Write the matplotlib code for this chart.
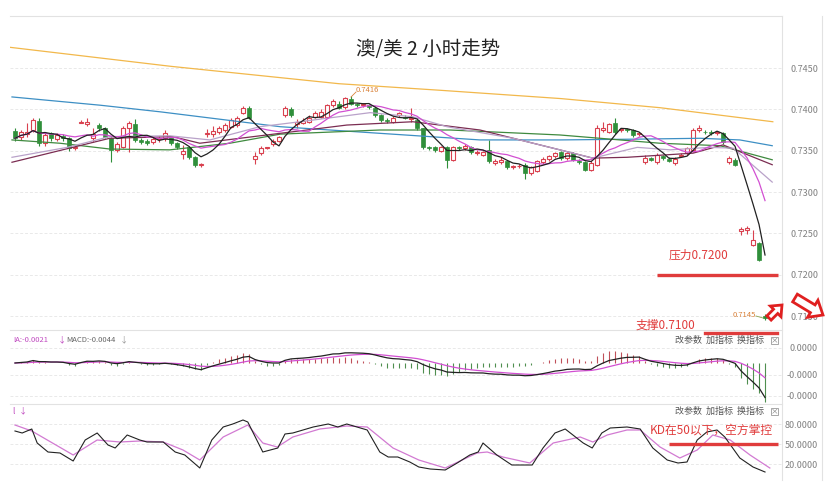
import numpy as np
import pandas as pd
import matplotlib
matplotlib.use('Agg')
import matplotlib.pyplot as plt
from matplotlib.patches import FancyArrow, Rectangle

plt.rcParams['font.family'] = ['Noto Sans CJK SC', 'DejaVu Sans']

# ---- candle data (AUD/USD, 2h) ----
opens = [0.7374, 0.7366, 0.7370, 0.7375, 0.7386, 0.7359, 0.7371, 0.7364, 0.7368, 0.7365,
         0.7353, 0.7384, 0.7382, 0.7365, 0.7381, 0.7377, 0.7365, 0.7351, 0.7355, 0.7377,
         0.7382, 0.7363, 0.7362, 0.7360, 0.7364, 0.7365, 0.7366, 0.7359, 0.7346, 0.7354,
         0.7342, 0.7333, 0.7370, 0.7370, 0.7372, 0.7375, 0.7379, 0.7381, 0.7396, 0.7402,
         0.7340, 0.7347, 0.7353, 0.7358, 0.7362, 0.7393, 0.7401, 0.7382, 0.7384, 0.7385,
         0.7391, 0.7391, 0.7391, 0.7405, 0.7407, 0.7403, 0.7413, 0.7406, 0.7405, 0.7405,
         0.7402, 0.7393, 0.7387, 0.7385, 0.7393, 0.7391, 0.7388, 0.7387, 0.7377, 0.7354,
         0.7354, 0.7350, 0.7354, 0.7339, 0.7354, 0.7353, 0.7354, 0.7347, 0.7345, 0.7351,
         0.7335, 0.7336, 0.7337, 0.7330, 0.7331, 0.7333, 0.7323, 0.7326, 0.7336, 0.7340,
         0.7343, 0.7348, 0.7341, 0.7347, 0.7338, 0.7336, 0.7327, 0.7333, 0.7375, 0.7373,
         0.7383, 0.7375, 0.7376, 0.7375, 0.7370, 0.7336, 0.7341, 0.7336, 0.7343, 0.7340,
         0.7335, 0.7344, 0.7347, 0.7351, 0.7375, 0.7373, 0.7373, 0.7371, 0.7371, 0.7336,
         0.7339, 0.7253, 0.7254, 0.7236, 0.7238, 0.7150]
closes = [0.7365, 0.7372, 0.7373, 0.7387, 0.7359, 0.7369, 0.7365, 0.7369, 0.7365, 0.7353,
          0.7355, 0.7385, 0.7385, 0.7370, 0.7377, 0.7367, 0.7351, 0.7358, 0.7377, 0.7383,
          0.7363, 0.7361, 0.7359, 0.7364, 0.7365, 0.7371, 0.7359, 0.7354, 0.7350, 0.7342,
          0.7333, 0.7334, 0.7371, 0.7374, 0.7377, 0.7381, 0.7387, 0.7390, 0.7402, 0.7390,
          0.7344, 0.7353, 0.7354, 0.7362, 0.7366, 0.7402, 0.7393, 0.7385, 0.7386, 0.7390,
          0.7396, 0.7397, 0.7405, 0.7410, 0.7402, 0.7414, 0.7407, 0.7405, 0.7406, 0.7403,
          0.7393, 0.7387, 0.7386, 0.7390, 0.7395, 0.7390, 0.7390, 0.7377, 0.7354, 0.7353,
          0.7351, 0.7354, 0.7339, 0.7354, 0.7353, 0.7356, 0.7348, 0.7349, 0.7348, 0.7337,
          0.7338, 0.7339, 0.7330, 0.7331, 0.7332, 0.7323, 0.7330, 0.7337, 0.7340, 0.7343,
          0.7347, 0.7341, 0.7347, 0.7339, 0.7336, 0.7327, 0.7335, 0.7377, 0.7378, 0.7382,
          0.7372, 0.7376, 0.7375, 0.7369, 0.7371, 0.7341, 0.7339, 0.7345, 0.7341, 0.7338,
          0.7340, 0.7345, 0.7353, 0.7375, 0.7378, 0.7372, 0.7371, 0.7372, 0.7360, 0.7341,
          0.7333, 0.7255, 0.7256, 0.7242, 0.7218, 0.7148]
highs = [0.7378, 0.7375, 0.7383, 0.7390, 0.7390, 0.7372, 0.7373, 0.7371, 0.7370, 0.7367,
         0.7356, 0.7387, 0.7390, 0.7378, 0.7384, 0.7379, 0.7367, 0.7360, 0.7380, 0.7386,
         0.7388, 0.7365, 0.7364, 0.7366, 0.7368, 0.7375, 0.7368, 0.7360, 0.7357, 0.7356,
         0.7343, 0.7335, 0.7376, 0.7380, 0.7380, 0.7383, 0.7389, 0.7392, 0.7404, 0.7404,
         0.7348, 0.7356, 0.7355, 0.7364, 0.7368, 0.7404, 0.7403, 0.7388, 0.7389, 0.7393,
         0.7398, 0.7400, 0.7407, 0.7413, 0.7410, 0.7415, 0.7416, 0.7408, 0.7408, 0.7407,
         0.7404, 0.7394, 0.7389, 0.7392, 0.7397, 0.7393, 0.7402, 0.7389, 0.7378, 0.7356,
         0.7356, 0.7356, 0.7356, 0.7356, 0.7356, 0.7358, 0.7356, 0.7351, 0.7350, 0.7363,
         0.7340, 0.7342, 0.7338, 0.7333, 0.7334, 0.7335, 0.7332, 0.7339, 0.7342, 0.7345,
         0.7349, 0.7350, 0.7349, 0.7349, 0.7340, 0.7338, 0.7337, 0.7381, 0.7385, 0.7384,
         0.7389, 0.7378, 0.7377, 0.7376, 0.7373, 0.7345, 0.7342, 0.7347, 0.7345, 0.7342,
         0.7342, 0.7347, 0.7355, 0.7377, 0.7381, 0.7375, 0.7375, 0.7374, 0.7373, 0.7344,
         0.7341, 0.7258, 0.7259, 0.7254, 0.7240, 0.7152]
lows = [0.7362, 0.7363, 0.7366, 0.7372, 0.7356, 0.7356, 0.7362, 0.7362, 0.7362, 0.7350,
        0.7351, 0.7383, 0.7380, 0.7360, 0.7374, 0.7365, 0.7336, 0.7349, 0.7353, 0.7348,
        0.7360, 0.7358, 0.7357, 0.7358, 0.7361, 0.7362, 0.7357, 0.7352, 0.7340, 0.7340,
        0.7330, 0.7330, 0.7366, 0.7366, 0.7370, 0.7373, 0.7377, 0.7379, 0.7394, 0.7388,
        0.7334, 0.7345, 0.7352, 0.7356, 0.7360, 0.7391, 0.7391, 0.7378, 0.7382, 0.7383,
        0.7389, 0.7389, 0.7389, 0.7403, 0.7400, 0.7401, 0.7405, 0.7403, 0.7403, 0.7401,
        0.7391, 0.7385, 0.7384, 0.7383, 0.7391, 0.7388, 0.7385, 0.7375, 0.7352, 0.7351,
        0.7349, 0.7348, 0.7329, 0.7337, 0.7351, 0.7351, 0.7346, 0.7345, 0.7343, 0.7335,
        0.7333, 0.7334, 0.7328, 0.7328, 0.7329, 0.7316, 0.7321, 0.7324, 0.7334, 0.7338,
        0.7341, 0.7339, 0.7339, 0.7337, 0.7334, 0.7325, 0.7325, 0.7331, 0.7372, 0.7371,
        0.7370, 0.7373, 0.7373, 0.7367, 0.7368, 0.7334, 0.7337, 0.7334, 0.7339, 0.7336,
        0.7333, 0.7343, 0.7345, 0.7349, 0.7372, 0.7370, 0.7369, 0.7369, 0.7358, 0.7334,
        0.7331, 0.7248, 0.7249, 0.7235, 0.7217, 0.7145]

# ---- longer moving averages (candle index, price) ----
ma20_idx = [-0.5, 8.7, 15.8, 25.8, 32.5, 40.8, 47.5, 59.2, 66.3, 72, 83, 90.8, 96.3, 103.7, 109.2, 115.8, 119.7, 126.2]
ma20_val = [0.7342, 0.7354, 0.7367, 0.7368, 0.7363, 0.7379, 0.7385, 0.7396, 0.7391, 0.7379, 0.7365, 0.7351,
            0.7341, 0.7354, 0.7351, 0.7354, 0.7353, 0.7312]
ma30_idx = [-0.5, 15.8, 26.3, 30.8, 44.2, 55.3, 66.3, 77.5, 90.8, 96.3, 102, 113, 118, 126.2]
ma30_val = [0.7336, 0.7365, 0.7367, 0.7359, 0.7371, 0.7381, 0.7385, 0.7375, 0.7351, 0.7341, 0.7342, 0.7347,
            0.7357, 0.7333]
ma60_idx = [-0.5, 7.5, 15.8, 25.8, 35.8, 44.2, 60.8, 72.5, 90.8, 107.5, 117.5, 126.2]
ma60_val = [0.7363, 0.7359, 0.7352, 0.7351, 0.7359, 0.7370, 0.7375, 0.7375, 0.7369, 0.7359, 0.7356, 0.7339]
ma120_idx = [-0.5, 14.2, 24.2, 44.2, 60.8, 77.5, 90.8, 104.2, 114.2, 120.8, 126.2]
ma120_val = [0.7415, 0.7405, 0.7397, 0.7379, 0.7371, 0.7363, 0.7363, 0.7364, 0.7365, 0.7363, 0.7356]
ma250_idx = [-0.8, 26, 54, 71, 91, 107.5, 126.3]
ma250_val = [0.7475, 0.7452, 0.7431, 0.7423, 0.7413, 0.7402, 0.7385]

# ---- KD ----
k_idx = [0, 1.2, 2.8, 3.7, 5.5, 7.5, 9.7, 11.7, 13.7, 15.5, 16.7, 18.7, 20.8, 22, 24.7, 26.7, 28.3, 30.8,
         32.8, 34.7, 36.3, 38, 38.8, 41.3, 43.8, 45, 46.3, 49.7, 52.2, 53.8, 55.3, 58.7, 60.8, 62.2, 63.8,
         65.8, 67.3, 69.2, 71.7, 73.7, 75.8, 77.2, 78, 80.3, 82.8, 86.2, 88, 90, 91.7, 94.7, 96.2, 97.8,
         99.2, 102, 104.2, 106.3, 108.7, 110.5, 112, 113.7, 115.3, 117, 118.3, 120.8, 123, 125]
k_val = [69.5, 66.5, 72.5, 51.5, 38, 36.5, 24.5, 56, 66.5, 48.5, 44, 63.5, 56, 53, 53, 38, 33.5, 14,
         56, 75.5, 80, 86, 83, 38, 44, 65, 66.5, 75.5, 80, 75.5, 80, 71, 38, 30.5, 30.5,
         23, 15.5, 12.5, 11, 21.5, 33.5, 38, 51.5, 33.5, 18.5, 18.5, 44, 66.5, 72.5, 51.5, 44, 66.5,
         74, 75.5, 72.5, 44, 26, 21.5, 23, 56, 68, 71, 60.5, 29, 15.5, 8]
d_idx = [0, 2.8, 9.7, 13.7, 17.5, 20.8, 24.7, 28, 30.8, 34.7, 38.8, 41.3, 43.7, 46.3, 50.8, 55.3, 58.7,
         63, 67.3, 71.7, 77, 78.7, 81.3, 85.8, 89.7, 94.2, 96.3, 98.7, 102, 104.2, 107.5, 110.8, 113.7,
         116.3, 119.2, 122.5, 125.8]
d_val = [78.5, 69.5, 33.5, 56, 53, 54.5, 53, 41, 26, 60.5, 78.5, 51.5, 45.5, 60.5, 72.5, 77, 75.5,
         44, 26, 14, 36.5, 38, 30.5, 21.5, 51.5, 60.5, 53, 63.5, 71, 71, 45.5, 29, 41,
         63.5, 56, 33.5, 14]

price_ticks = [0.7450, 0.7400, 0.7350, 0.7300, 0.7250, 0.7200, 0.7150]
macd_ticks = [0.00158, -0.00126, -0.00347]
macd_labels = ['0.0000', '-0.0000', '-0.0000']
kd_ticks = [80, 50, 20]

RED = '#d9414f'
GREEN = '#2f8f3a'
GRID = '#e9e9e9'

W, H = 837, 487
fig = plt.figure(figsize=(W / 100, H / 100), dpi=100)


def px_axes(x0, y0, x1, y1):
    return fig.add_axes([x0 / W, 1 - y1 / H, (x1 - x0) / W, (y1 - y0) / H])


ax = px_axes(10, 16, 782, 330)
ax_macd = px_axes(10, 330, 782, 404)
ax_kd = px_axes(10, 404, 782, 480)

n = len(closes)
x = np.arange(n)
o = np.array(opens)
c = np.array(closes)
h = np.array(highs)
l = np.array(lows)
up = c >= o

# candles
ax.vlines(x[up], l[up], h[up], color=RED, lw=0.8, zorder=3)
ax.vlines(x[~up], l[~up], h[~up], color=GREEN, lw=0.8, zorder=3)
body_lo = np.minimum(o, c)
body_h = np.maximum(np.abs(c - o), 0.00008)
ax.bar(x[up], body_h[up], bottom=body_lo[up], width=0.7, facecolor='white',
       edgecolor=RED, linewidth=0.8, zorder=3.5)
ax.bar(x[~up], body_h[~up], bottom=body_lo[~up], width=0.75, facecolor=GREEN,
       edgecolor=GREEN, linewidth=0.5, zorder=3.5)

# moving averages
s = pd.Series(closes)
ma5 = s.rolling(5, min_periods=1).mean()
ma10 = s.rolling(10, min_periods=1).mean()
ax.plot(ma250_idx, ma250_val, color='#f2b84b', lw=0.9, zorder=4)
ax.plot(ma120_idx, ma120_val, color='#3d8fc4', lw=0.9, zorder=4)
ax.plot(ma60_idx, ma60_val, color='#3f8a3f', lw=0.9, zorder=4)
ax.plot(ma30_idx, ma30_val, color='#7b2d52', lw=0.9, zorder=4)
ax.plot(ma20_idx, ma20_val, color='#b9a2c9', lw=0.9, zorder=4)
ax.plot(x, ma10, color='#d24fd2', lw=0.9, zorder=4)
ax.plot(x, ma5, color='#222222', lw=0.9, zorder=4.5)

# MACD
ema12 = s.ewm(span=12, adjust=False).mean()
ema26 = s.ewm(span=26, adjust=False).mean()
diff = ema12 - ema26
dea = diff.ewm(span=9, adjust=False).mean()
hist = 2 * (diff - dea)
pos = (hist >= 0).values
ax_macd.vlines(x[pos], 0, hist[pos], color='#c0505a', lw=0.8)
ax_macd.vlines(x[~pos], 0, hist[~pos], color='#4f8f4f', lw=0.8)
ax_macd.plot(x, dea, color='#d24fd2', lw=0.9)
ax_macd.plot(x, diff, color='#222222', lw=0.9)

# KD
ax_kd.plot(d_idx, d_val, color='#d27ad2', lw=0.9)
ax_kd.plot(k_idx, k_val, color='#222222', lw=0.8)

for a in (ax, ax_macd, ax_kd):
    a.set_xlim(-0.83, 127.83)
    a.set_xticks([])
    a.set_facecolor('none')
    for sp in ('left', 'bottom', 'right'):
        a.spines[sp].set_visible(False)
    a.spines['top'].set_color('#e2e2e2')
    a.spines['top'].set_linewidth(0.8)
    a.yaxis.tick_right()
    a.tick_params(axis='y', length=0, pad=26, labelsize=6.5, labelcolor='#808080')
    a.grid(axis='y', color=GRID, lw=0.7, linestyle=(0, (3, 2)))
    a.set_axisbelow(True)

ax.set_ylim(0.71331, 0.75129)
ax.set_yticks(price_ticks)
ax.set_yticklabels(['%.4f' % t for t in price_ticks])
ax_macd.set_ylim(-0.004316, 0.003474)
ax_macd.set_yticks(macd_ticks)
ax_macd.set_yticklabels(macd_labels)
ax_kd.set_ylim(-4, 110)
ax_kd.set_yticks(kd_ticks)
ax_kd.set_yticklabels(['%.4f' % t for t in kd_ticks])
for a in (ax, ax_macd, ax_kd):
    for t in a.get_yticklabels():
        t.set_ha('right')

# support / resistance lines
ax.hlines(0.7200, 107, 127.2, color='#e03c3c', lw=2.4, zorder=5, clip_on=False)
ax_kd.hlines(50, 109.0, 127.2, color='#e03c3c', lw=2.4, zorder=5, clip_on=False)

# overlay in pixel coordinates for the annotations
ov = fig.add_axes([0, 0, 1, 1])
ov.set_xlim(0, W)
ov.set_ylim(H, 0)
ov.axis('off')
ov.patch.set_alpha(0)

ov.plot([782, 782], [16, 480], color='#e2e2e2', lw=0.8)
ov.plot([822, 822], [16, 480], color='#e2e2e2', lw=0.8)

ov.text(428, 50, '澳/美 2 小时走势', ha='center', va='center', fontsize=14, color='#222222')

ov.text(699, 255, '压力0.7200', ha='center', va='center', fontsize=8.5, color='#e03c3c')
ov.text(665, 325, '支撑0.7100', ha='center', va='center', fontsize=8.5, color='#e03c3c')
ov.plot([705, 777], [333, 333], color='#e03c3c', lw=2.4)
ov.text(711, 430, 'KD在50以下，空方掌控', ha='center', va='center', fontsize=8.5, color='#e03c3c')

ov.text(356, 90, '0.7416', ha='left', va='center', fontsize=5.5, color='#d9823b')
ov.plot([351, 356], [97, 92], color='#d9823b', lw=0.6)
ov.text(733, 315, '0.7145', ha='left', va='center', fontsize=5.5, color='#d9823b')
ov.plot([756, 763], [316, 318], color='#8aa04a', lw=0.6)

ov.add_patch(FancyArrow(769, 318, 13, -13, width=6, head_width=15, head_length=9,
                        length_includes_head=True, fc='white', ec='#e02020', lw=2, zorder=6))
ov.add_patch(FancyArrow(795, 298, 28, 17, width=9, head_width=20, head_length=12,
                        length_includes_head=True, fc='white', ec='#e02020', lw=2, zorder=6))

for yy in (340, 411):
    ov.text(764, yy, '改参数  加指标  换指标', ha='right', va='center', fontsize=6.5, color='#555555')
    ov.add_patch(Rectangle((771, yy - 3.5), 7, 7, fill=False, ec='#999999', lw=0.6))
    ov.text(774.5, yy, '×', ha='center', va='center', fontsize=5.5, color='#777777')

ov.text(13, 340, 'IA:-0.0021', ha='left', va='center', fontsize=5.5, color='#c04ac0')
ov.text(58, 340, '↓', ha='left', va='center', fontsize=6, color='#c04ac0')
ov.text(66, 340, 'MACD:-0.0044', ha='left', va='center', fontsize=5.5, color='#666666')
ov.text(120, 340, '↓', ha='left', va='center', fontsize=6, color='#999999')
ov.text(12, 411, 'l', ha='left', va='center', fontsize=6, color='#c04ac0')
ov.text(19, 411, '↓', ha='left', va='center', fontsize=6, color='#c04ac0')

fig.savefig('out.png', dpi=100)
